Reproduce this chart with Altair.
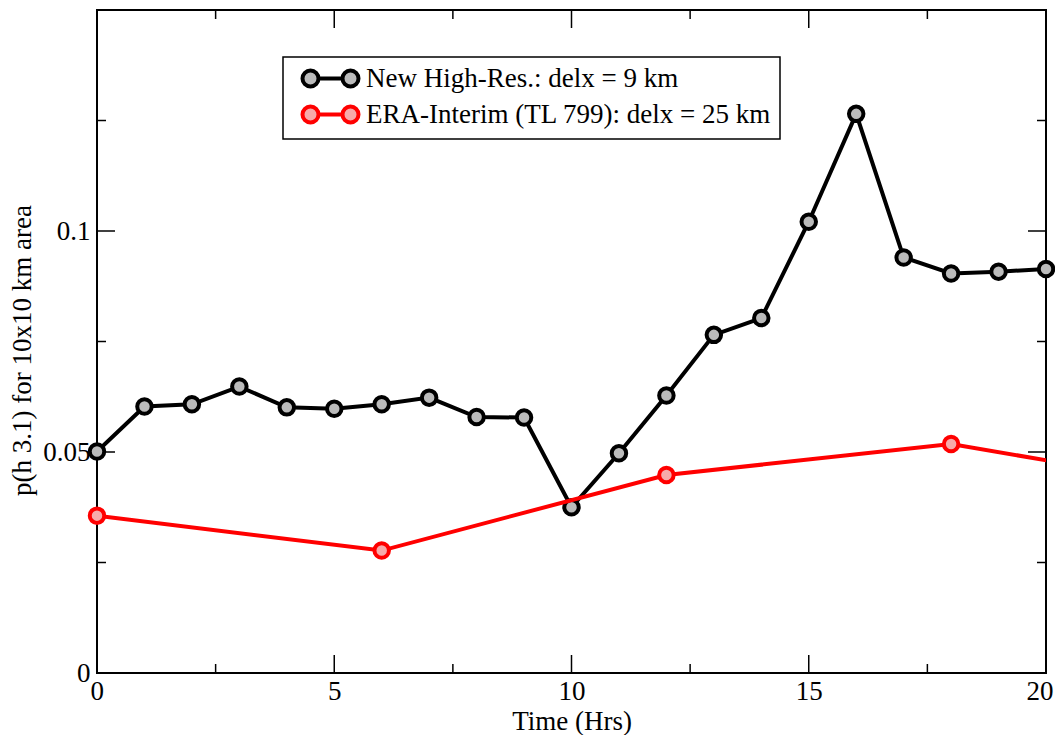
import altair as alt
import pandas as pd

# ---- data ----
series_names = ["New High-Res.: delx = 9 km", "ERA-Interim (TL 799): delx = 25 km"]
hours_hr = list(range(21))
vals_hr = [0.0501, 0.0603, 0.0608, 0.0648, 0.0601, 0.0598, 0.0608, 0.0623, 0.0579, 0.0578,
           0.0375, 0.0497, 0.0628, 0.0765, 0.0803, 0.1021, 0.1265, 0.0940, 0.0904, 0.0908, 0.0914]
hours_era = [0, 6, 12, 18, 24]
vals_era = [0.0356, 0.0277, 0.0448, 0.0518, 0.0408]

x_major = [0, 5, 10, 15, 20]
x_minor = [2.5, 7.5, 12.5, 17.5]
y_major = [0, 0.05, 0.1]
y_minor = [0.025, 0.075, 0.125]

line_colors = ["#000000", "#ff0000"]
fill_colors = ["#bbbbbb", "#f7aaaa"]

df = pd.DataFrame({
    "hour": hours_hr + hours_era,
    "value": vals_hr + vals_era,
    "series": [series_names[0]] * len(hours_hr) + [series_names[1]] * len(hours_era),
})

W, H = 949, 663
FONT = "Liberation Serif"
FS = 27
MAJ, MIN = 18, 9

xscale = alt.Scale(domain=[0, 20], nice=False, zero=False)
yscale = alt.Scale(domain=[0, 0.15], nice=False, zero=False)

xaxis = alt.Axis(title="Time (Hrs)", values=x_major, format="d", grid=False, domain=False,
                 ticks=False, tickSize=0, labelPadding=5, titlePadding=4,
                 labelFlush=True, labelFlushOffset=7,
                 labelFont=FONT, labelFontSize=FS, titleFont=FONT, titleFontSize=FS,
                 titleFontWeight="normal", labelColor="black", titleColor="black")
yaxis = alt.Axis(title="p(h 3.1) for 10x10 km area", values=y_major, format=".2~f", grid=False,
                 domain=False, ticks=False, tickSize=0, labelPadding=7, titlePadding=6,
                 labelFlush=False, titleY=340,
                 labelFont=FONT, labelFontSize=FS, titleFont=FONT, titleFontSize=FS,
                 titleFontWeight="normal", labelColor="black", titleColor="black")

def X(field):
    return alt.X(f"{field}:Q", scale=xscale, axis=xaxis)

def Y(field):
    return alt.Y(f"{field}:Q", scale=yscale, axis=yaxis)

# legend symbol: two circles joined by a line (path units = 9 px for symbolSize 324)
u = 9.0
def px(v):
    return round((v - u) / u, 4)
r = round(8 / u, 4)
c1, c2 = px(15), px(55)
sym = (f"M {px(23)} 0 L {px(47)} 0 "
       f"M {round(c1 - r, 4)} 0 A {r} {r} 0 1 0 {round(c1 + r, 4)} 0 A {r} {r} 0 1 0 {round(c1 - r, 4)} 0 Z "
       f"M {round(c2 - r, 4)} 0 A {r} {r} 0 1 0 {round(c2 + r, 4)} 0 A {r} {r} 0 1 0 {round(c2 - r, 4)} 0 Z")

leg = alt.Legend(title=None, orient="none", legendX=186, legendY=47, symbolType=sym,
                 symbolSize=324, symbolStrokeWidth=4, labelFont=FONT, labelFontSize=FS,
                 labelColor="black", labelOffset=48, padding=8, rowPadding=3,
                 strokeColor="black", fillColor="white", labelLimit=700)

stroke_enc = alt.Stroke("series:N", scale=alt.Scale(domain=series_names, range=line_colors), legend=leg)
fill_enc = alt.Fill("series:N", scale=alt.Scale(domain=series_names, range=fill_colors), legend=leg)

base = alt.Chart(df)

layers = []
for i, name in enumerate(series_names):
    sub = base.transform_filter(alt.datum.series == name)
    layers.append(
        sub.mark_line(strokeWidth=4, clip=True).encode(
            x=X("hour"), y=Y("value"), stroke=stroke_enc, order="hour:Q")
    )
    layers.append(
        sub.transform_filter(alt.datum.hour <= 20).mark_point(
            shape="circle", size=210, strokeWidth=4, opacity=1, filled=False).encode(
            x=X("hour"), y=Y("value"), stroke=stroke_enc, fill=fill_enc)
    )

def xticks(vals, length):
    d = alt.Chart(pd.DataFrame({"hour": vals}))
    bottom = d.mark_rule(color="black", strokeWidth=1.5).encode(
        x=X("hour"), y=alt.value(H), y2=alt.value(H - length))
    top = d.mark_rule(color="black", strokeWidth=1.5).encode(
        x=X("hour"), y=alt.value(0), y2=alt.value(length))
    return [bottom, top]

def yticks(vals, length):
    d = alt.Chart(pd.DataFrame({"value": vals}))
    left = d.mark_rule(color="black", strokeWidth=1.5).encode(
        y=Y("value"), x=alt.value(0), x2=alt.value(length))
    right = d.mark_rule(color="black", strokeWidth=1.5).encode(
        y=Y("value"), x=alt.value(W), x2=alt.value(W - length))
    return [left, right]

tick_layers = xticks(x_major, MAJ) + xticks(x_minor, MIN) + yticks(y_major, MAJ) + yticks(y_minor, MIN)

chart = alt.layer(*tick_layers, *layers).properties(
    width=W, height=H,
    padding={"left": 89, "top": 2, "right": 9, "bottom": 62},
    autosize="none",
).configure_view(stroke="black", strokeWidth=2).configure_legend(strokeWidth=1.5)

chart.save("out.html", embed_options={"renderer": "svg", "actions": False})
